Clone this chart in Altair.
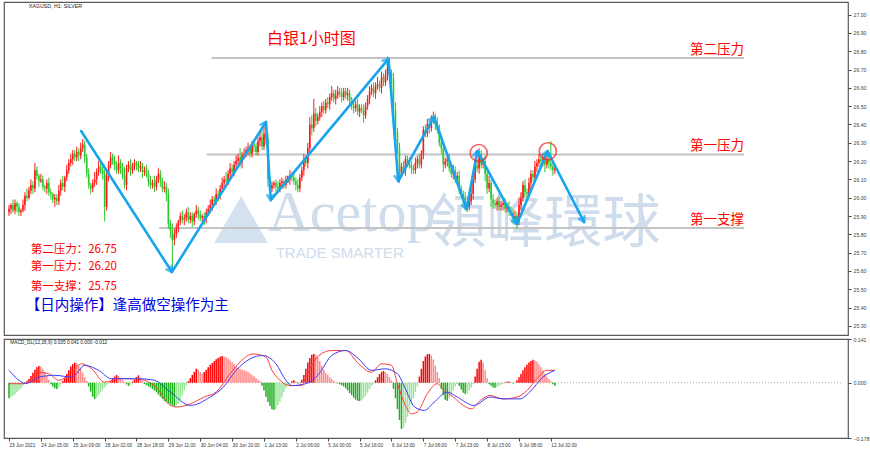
import math
import altair as alt
import pandas as pd

# ---------------- data ----------------
first_open = 25.92
closes = [
    25.94, 25.96, 25.93, 25.97, 25.95, 25.92, 25.93, 25.96, 26.01, 26.00,
    26.04, 26.07, 26.05, 26.15, 26.12, 26.09, 26.10, 26.06, 26.05, 26.08,
    26.03, 26.02, 25.99, 26.00, 25.98, 26.04, 26.08, 26.06, 26.11, 26.15,
    26.19, 26.21, 26.24, 26.22, 26.25, 26.23, 26.27, 26.29, 26.22, 26.13,
    26.07, 26.05, 26.08, 26.10, 26.14, 26.17, 26.15, 26.13, 25.95, 26.12,
    26.18, 26.22, 26.20, 26.18, 26.15, 26.19, 26.16, 26.12, 26.07, 26.16,
    26.18, 26.15, 26.17, 26.19, 26.18, 26.16, 26.17, 26.14, 26.15, 26.13,
    26.09, 26.07, 26.08, 26.06, 26.10, 26.13, 26.09, 26.05, 26.06, 26.02,
    25.86, 25.82, 25.77, 25.80, 25.84, 25.87, 25.90, 25.88, 25.89, 25.92,
    25.88, 25.90, 25.87, 25.91, 25.93, 25.91, 25.89, 25.90, 25.88, 25.92,
    25.94, 25.96, 25.99, 25.98, 26.02, 26.01, 26.05, 26.08, 26.10, 26.09,
    26.13, 26.16, 26.14, 26.18, 26.20, 26.22, 26.19, 26.23, 26.24, 26.26,
    26.27, 26.24, 26.29, 26.28, 26.25, 26.31, 26.33, 26.28, 26.35, 26.32,
    26.10, 26.05, 26.07, 26.08, 26.06, 26.05, 26.08, 26.09, 26.07, 26.10,
    26.10, 26.12, 26.11, 26.09, 26.07, 26.05, 26.11, 26.15, 26.21, 26.19,
    26.27, 26.40, 26.38, 26.46, 26.42, 26.44, 26.47, 26.50, 26.48, 26.52,
    26.51, 26.55, 26.57, 26.54, 26.56, 26.58, 26.57, 26.55, 26.58, 26.56,
    26.57, 26.53, 26.50, 26.49, 26.51, 26.47, 26.49, 26.48, 26.45, 26.50,
    26.54, 26.58, 26.60, 26.57, 26.61, 26.62, 26.60, 26.66, 26.63, 26.67,
    26.71, 26.68, 26.65, 26.48, 26.36, 26.27, 26.13, 26.17, 26.15, 26.21,
    26.19, 26.18, 26.16, 26.15, 26.19, 26.21, 26.18, 26.24, 26.37, 26.35,
    26.40, 26.38, 26.43, 26.44, 26.40, 26.37, 26.30, 26.27, 26.18, 26.20,
    26.21, 26.16, 26.13, 26.15, 26.10, 26.12, 26.05, 26.02, 26.00, 25.96,
    25.95, 25.98, 26.02, 26.10, 26.18, 26.16, 26.24, 26.18, 26.20, 26.13,
    26.05, 26.08, 25.99, 25.97, 25.96, 25.98, 25.95, 25.96, 25.97, 25.94,
    25.95, 25.93, 25.92, 25.89, 25.90, 25.87, 25.96, 26.00, 26.07, 26.03,
    26.02, 26.08, 26.13, 26.11, 26.17, 26.19, 26.21, 26.20, 26.22, 26.18,
    26.21, 26.19, 26.17, 26.15, 26.16,
]
wick_up = [
    2, 1, 3, 2, 1, 2, 1, 3, 2, 4, 2, 3, 2, 4, 2, 1, 3, 2, 1, 2,
    3, 2, 1, 2, 2, 3, 2, 4, 1, 3, 2, 3, 2, 2, 3, 2, 3, 3, 2, 2,
    3, 1, 2, 4, 2, 3, 2, 4, 2, 3, 2, 3, 2, 3, 2, 4, 2, 3, 5, 2,
    2, 3, 2, 2, 1, 2, 3, 2, 2, 3, 2, 3, 2, 4, 2, 3, 2, 2, 3, 2,
    3, 2, 4, 3, 2, 1, 2, 3, 2, 2, 3, 2, 2, 1, 3, 2, 2, 1, 2, 2,
    2, 3, 2, 2, 3, 2, 2, 3, 2, 4, 2, 3, 2, 2, 3, 2, 5, 2, 3, 2,
    3, 2, 2, 3, 2, 2, 3, 4, 6, 2, 3, 2, 2, 1, 2, 3, 2, 2, 1, 2,
    2, 3, 2, 2, 2, 3, 2, 2, 3, 2, 3, 4, 5, 8, 3, 2, 3, 2, 3, 2,
    3, 2, 4, 2, 3, 3, 2, 3, 2, 2, 3, 2, 2, 3, 2, 3, 2, 2, 3, 2,
    2, 3, 2, 3, 2, 4, 2, 3, 2, 3, 6, 3, 2, 3, 4, 2, 3, 2, 3, 2,
    2, 3, 2, 2, 3, 2, 3, 2, 2, 3, 3, 2, 2, 3, 2, 4, 3, 2, 3, 2,
    2, 3, 2, 3, 2, 2, 3, 2, 2, 3, 2, 2, 3, 2, 4, 3, 3, 2, 2, 3,
    2, 4, 2, 3, 2, 2, 3, 2, 2, 3, 2, 3, 2, 2, 3, 2, 4, 3, 2, 3,
    2, 3, 2, 2, 3, 2, 3, 2, 2, 2, 3, 2, 12, 2, 2,
]
wick_dn = [
    2, 3, 1, 2, 3, 2, 2, 1, 3, 2, 1, 2, 3, 2, 2, 3, 1, 2, 2, 3,
    2, 3, 2, 4, 2, 2, 3, 2, 3, 2, 2, 2, 3, 2, 2, 3, 2, 2, 3, 2,
    2, 3, 2, 2, 3, 2, 2, 3, 8, 2, 3, 2, 2, 3, 2, 2, 3, 2, 2, 3,
    2, 3, 2, 2, 3, 2, 2, 3, 2, 2, 3, 2, 2, 3, 2, 2, 3, 2, 2, 4,
    3, 4, 16, 3, 2, 3, 2, 2, 3, 2, 2, 2, 3, 2, 2, 3, 2, 2, 3, 2,
    2, 2, 3, 2, 2, 3, 2, 2, 3, 2, 2, 3, 2, 2, 3, 2, 2, 3, 2, 2,
    3, 2, 2, 3, 2, 2, 3, 2, 2, 3, 4, 3, 2, 2, 3, 2, 2, 3, 2, 2,
    2, 3, 2, 2, 3, 2, 2, 2, 3, 2, 3, 2, 4, 2, 3, 2, 2, 3, 2, 2,
    2, 3, 2, 2, 3, 2, 2, 3, 2, 2, 3, 2, 2, 3, 2, 2, 3, 2, 4, 2,
    2, 3, 2, 2, 3, 2, 2, 3, 2, 2, 3, 2, 3, 3, 2, 3, 5, 2, 2, 3,
    2, 2, 3, 2, 2, 3, 2, 2, 3, 2, 2, 3, 2, 2, 3, 2, 2, 3, 4, 2,
    3, 2, 2, 3, 2, 2, 3, 2, 4, 3, 3, 2, 2, 3, 2, 2, 3, 2, 2, 4,
    3, 2, 4, 3, 2, 3, 2, 2, 3, 2, 2, 3, 2, 3, 2, 4, 2, 3, 2, 3,
    2, 2, 3, 2, 2, 3, 2, 2, 3, 4, 2, 3, 2, 3, 2,
]
# MACD histogram, in thousandths
hist_milli = [
    -50, -45, -42, -38, -30, -24, -18, -10, -4,
    5, 12, 22, 32, 42, 50, 54, 52, 45, 35, 22, 10,
    -5, -12, -18, -20, -15, -6,
    6, 15, 28, 40, 52, 60, 65, 62, 55, 45, 32, 18, 6,
    -12, -28, -45, -52, -48, -40, -30, -22, -15, -8, -3,
    5, 12, 20, 25, 22, 15, 8, 3,
    -5, -10, -6,
    4, 10, 18, 24, 15, 6,
    -4, -8, -12, -15, -20, -25, -30, -38, -45, -52, -58, -62, -66, -70, -73, -75, -74, -68, -55, -40, -25, -10,
    5, 15, 25, 35, 45, 42, 35, 30,
    35, 42, 50, 58, 64, 70, 76, 80, 84, 86, 85, 82, 78, 72, 66, 60,
    52, 48, 45, 42, 40, 38, 35, 30, 25, 20, 15, 10, 5,
    -10, -25, -45, -62, -75, -85, -88, -84, -72, -60, -45, -30, -18, -8, -3,
    5, 8, 4, -3, 2,
    10, 25, 45, 65, 80, 90, 93, 90, 82, 70, 55, 42, 32, 25, 18, 12, 6, 2,
    -2, -5, -8, -12,
    -18, -25, -33, -40, -48, -54, -58, -59, -56, -50, -42, -32, -20, -10, -3,
    8, 18, 28, 35, 38, 35, 28, 18, 8,
    -20, -50, -85, -120, -149, -145, -130, -110, -90, -70, -50, -30, -12,
    20, 45, 70, 85, 92, 93, 88, 75, 55, 35, 15,
    -20, -40, -55, -58, -50, -38, -25, -12, -4,
    -10, -22, -32, -36, -34, -25, -15, -5,
    20, 45, 68, 74, 65, 40, 15,
    -5, -10, -15, -16, -14, -10, -6, -3,
    2, 3, 4, 2, -2, -1,
    8, 18, 28, 40, 50, 58, 65, 70, 74, 72, 68, 60, 50, 40, 30, 20, 12, 5,
    -5, -10,
]
red_idx = [0, 7, 15, 20, 25, 30, 36.5, 41.5, 48, 55, 61, 68, 74.5, 81, 84.5, 91, 98, 104, 111, 116,
           122.5, 129, 132, 136, 141, 147, 149, 155.6, 162, 169, 175.5, 182, 187, 192, 195, 198.6,
           202, 205, 210, 215, 218.4, 223, 228, 232, 236.6, 241.6, 248, 255, 260, 265, 270, 274]
red_val = [-0.003, -0.003, 0.034, 0.029, 0.008, 0.024, 0.061, 0.045, 0.002, 0.013, 0.013, 0.008,
           -0.019, -0.073, -0.078, -0.068, -0.046, -0.030, 0.029, 0.067, 0.093, 0.083, 0.040, 0.008,
           -0.009, -0.009, 0.018, 0.088, 0.104, 0.104, 0.061, 0.034, 0.061, 0.056, -0.003, -0.068,
           -0.100, -0.094, -0.035, -0.003, -0.025, -0.046, -0.073, -0.084, -0.057, -0.041, -0.052,
           -0.046, -0.025, 0.013, 0.040, 0.040]
blue_idx = [0, 5, 8.4, 15, 23, 31.6, 38, 45, 51.4, 64.6, 73, 81, 91, 101, 107.6, 114, 121, 127.4,
            134, 139, 142, 149, 155.6, 162, 169, 175.5, 182, 188.7, 195, 198.6, 203.6, 208.5,
            213.5, 220, 225, 233.3, 241.6, 248, 256.5, 261.4, 268, 274]
blue_val = [0.040, 0.008, -0.003, 0.018, 0.024, 0.018, 0.056, 0.040, 0.013, 0.013, 0.008, -0.030,
            -0.073, -0.046, -0.014, 0.040, 0.077, 0.088, 0.061, 0.008, -0.009, -0.003, 0.029, 0.088,
            0.104, 0.077, 0.040, 0.045, 0.029, -0.014, -0.078, -0.089, -0.062, -0.030, -0.046,
            -0.073, -0.046, -0.052, -0.052, -0.030, 0.018, 0.040]
tick_text = ["23 Jun 2021", "24 Jun 15:00", "25 Jun 09:00", "28 Jun 02:00", "28 Jun 18:00",
             "29 Jun 11:00", "30 Jun 04:00", "30 Jun 20:00", "1 Jul 13:00", "2 Jul 06:00",
             "5 Jul 00:00", "5 Jul 16:00", "6 Jul 13:00", "7 Jul 06:00", "7 Jul 23:00",
             "8 Jul 15:00", "9 Jul 08:00", "12 Jul 02:00"]
price_ticks = [27.00, 26.90, 26.80, 26.70, 26.60, 26.50, 26.40, 26.30, 26.20, 26.10,
               26.00, 25.90, 25.80, 25.70, 25.60, 25.50, 25.40, 25.30]
macd_ticks = [0.141, 0.0, -0.178]

# hand-drawn annotations (bar index, price)
zz_idx = [36.2, 81.8, 129.0, 131.4, 190.5, 195.4, 213.3, 229.7, 235.1, 255.0, 270.3, 288.7]
zz_price = [26.364, 25.594, 26.414, 25.987, 26.758, 26.091, 26.441, 25.938, 26.255, 25.856, 26.255, 25.867]
circle_idx = [235.8, 270.5]
circle_price = [26.244, 26.254]
level_price = [26.763, 26.236, 25.834]
level_start = [101.7, 99.2, 75.4]
level_end = 369.0
level_names = ["第二压力", "第一压力", "第一支撑"]
level_label_price = [26.807, 26.280, 25.878]
note_lines = ["第二压力：26.75", "第一压力：26.20", "第一支撑：25.75"]
note_price = [25.712, 25.624, 25.512]
plan_text = "【日内操作】逢高做空操作为主"
title_text = "白银1小时图"

# ---------------- layout ----------------
X_DOM = [0, 418.65]
Y_DOM = [25.250, 27.069]
M_DOM = [-0.178, 0.141]
W, H_MAIN, H_MACD = 844, 333, 99
PX_I = W / (X_DOM[1] - X_DOM[0])
PX_P = H_MAIN / (Y_DOM[1] - Y_DOM[0])
CJK = "Noto Sans CJK SC"
SMALL = "Liberation Sans"

xs = alt.Scale(domain=X_DOM, nice=False, zero=False)
ys = alt.Scale(domain=Y_DOM, nice=False, zero=False)
ms = alt.Scale(domain=M_DOM, nice=False, zero=False)

yax = alt.Axis(orient="right", values=price_ticks, format=".2f", grid=False, domain=False,
               tickSize=3, tickColor="#444", labelFontSize=5.2, labelColor="#444",
               labelFont=SMALL, labelPadding=2, title=None)
label_expr = "[" + ",".join("'%s'" % t for t in tick_text) + "][round(datum.value/16)]"
xax = alt.Axis(orient="bottom", values=[16 * k for k in range(len(tick_text))], labelExpr=label_expr,
               labelAlign="left", labelFontSize=4.7, labelColor="#333", labelFont=SMALL,
               tickSize=3, tickColor="#444", domain=False, grid=False, labelPadding=1,
               labelFlush=False, labelOverlap=False, title=None)
max_ = alt.Axis(orient="right", values=macd_ticks, format=".3f", grid=False, domain=False,
                tickSize=3, tickColor="#444", labelFontSize=5.2, labelColor="#444",
                labelFont=SMALL, labelPadding=2, title=None)


def XM(f):
    return alt.X(f, type="quantitative", scale=xs, axis=None)


def YM(f):
    return alt.Y(f, type="quantitative", scale=ys, axis=yax)


def XB(f):
    return alt.X(f, type="quantitative", scale=xs, axis=xax)


def YB(f):
    return alt.Y(f, type="quantitative", scale=ms, axis=max_)


opens = [first_open] + closes[:-1]
rows = []
for i, (o, c, wu, wd) in enumerate(zip(opens, closes, wick_up, wick_dn)):
    col = "#ff1a1a" if c > o else ("#2ec82e" if c < o else "#000000")
    rows.append(dict(i=i, o=o, c=c, h=max(o, c) + wu / 100, l=min(o, c) - wd / 100, col=col))
cdf = pd.DataFrame(rows)

wicks = alt.Chart(cdf).mark_rule(strokeWidth=1, clip=True).encode(
    x=XM("i"), y=YM("l"), y2="h:Q", color=alt.Color("col:N", scale=None))
bodies = alt.Chart(cdf).mark_bar(size=1.6, clip=True).encode(
    x=XM("i"), y=YM("o"), y2="c:Q", color=alt.Color("col:N", scale=None))

lvl_df = pd.DataFrame(dict(p=level_price, s=level_start, e=[level_end] * 3,
                           name=level_names, lp=level_label_price))
levels = alt.Chart(lvl_df).mark_rule(color="#c3c3c3", strokeWidth=2).encode(
    x=XM("s"), x2="e:Q", y=YM("p"))
level_text = alt.Chart(lvl_df).mark_text(align="right", baseline="middle", font=CJK,
                                         fontSize=13.5, color="#ff0000").encode(
    x=XM("e"), y=YM("lp"), text="name:N")

# watermark
wm_color = "#c9d9ea"
wm_df = pd.DataFrame(dict(i=[130.0, 268.8, 166.0], p=[25.91, 25.85, 25.70],
                          t=["Acetop", "領峰環球", "TRADE SMARTER"]))
wm1 = alt.Chart(wm_df.iloc[[0]]).mark_text(
    align="left", baseline="middle", font="Liberation Serif", fontSize=58, color=wm_color,
    opacity=0.9).encode(x=XM("i"), y=YM("p"), text="t:N")
wm2 = alt.Chart(wm_df.iloc[[1]]).mark_text(
    align="center", baseline="middle", font="Noto Sans CJK TC", fontSize=58, color=wm_color,
    opacity=0.9).encode(x=XM("i"), y=YM("p"), text="t:N")
wm3 = alt.Chart(wm_df.iloc[[2]]).mark_text(
    align="center", baseline="middle", font="Liberation Sans", fontSize=15, color=wm_color,
    opacity=0.9).encode(x=XM("i"), y=YM("p"), text="t:N")
wm_logo = alt.Chart(pd.DataFrame(dict(i=[116.5], p=[25.88]))).mark_point(
    shape="triangle-up", filled=True, size=2900, color=wm_color, opacity=0.8).encode(
    x=XM("i"), y=YM("p"))

zz_df = pd.DataFrame(dict(i=zz_idx, p=zz_price, k=list(range(len(zz_idx)))))
zz_line = alt.Chart(zz_df).mark_line(color="#17a5ec", strokeWidth=2.6, strokeCap="round",
                                     strokeJoin="round", clip=True).encode(
    x=XM("i"), y=YM("p"), order="k:Q")
heads = []
for k in range(1, len(zz_idx)):
    dx = (zz_idx[k] - zz_idx[k - 1]) * PX_I
    dy = -(zz_price[k] - zz_price[k - 1]) * PX_P
    ang = math.degrees(math.atan2(dx, -dy)) % 360
    heads.append(dict(i=zz_idx[k], p=zz_price[k], a=ang))
head_df = pd.DataFrame(heads)
zz_heads = alt.Chart(head_df).mark_point(shape="M -0.55 0.9 L 0 0 L 0.55 0.9", filled=False,
                                         size=130, strokeWidth=2.6, color="#17a5ec",
                                         strokeCap="round", strokeJoin="round").encode(
    x=XM("i"), y=YM("p"), angle=alt.Angle("a:Q", scale=alt.Scale(domain=[0, 360], range=[0, 360])))

circ_df = pd.DataFrame(dict(i=circle_idx, p=circle_price))
circles = alt.Chart(circ_df).mark_point(shape="circle", filled=False, size=290, strokeWidth=1.6,
                                        color="#ee2222").encode(x=XM("i"), y=YM("p"))

title_df = pd.DataFrame(dict(i=[151.8], p=[26.867], t=[title_text]))
title = alt.Chart(title_df).mark_text(align="center", baseline="middle", font=CJK, fontSize=16,
                                      color="#ff0000").encode(x=XM("i"), y=YM("p"), text="t:N")

notes_df = pd.DataFrame(dict(i=[10.9] * 3, p=note_price, t=note_lines))
notes = alt.Chart(notes_df).mark_text(align="left", baseline="middle", font=CJK, fontSize=11.5,
                                      color="#ff0000").encode(x=XM("i"), y=YM("p"), text="t:N")
plan_df = pd.DataFrame(dict(i=[8.4], p=[25.408], t=[plan_text]))
plan = alt.Chart(plan_df).mark_text(align="left", baseline="middle", font=CJK, fontSize=14.5,
                                    color="#0000e0").encode(x=XM("i"), y=YM("p"), text="t:N")

sym_df = pd.DataFrame(dict(i=[9.9], p=[27.048], t=["XAGUSD, H1:  SILVER"]))
sym = alt.Chart(sym_df).mark_text(align="left", baseline="middle", font=SMALL,
                                  fontSize=5.3, color="#222").encode(x=XM("i"), y=YM("p"), text="t:N")

main = alt.layer(wm_logo, wm1, wm2, wm3, levels, wicks, bodies, zz_line, zz_heads, circles,
                 level_text, title, notes, plan, sym).properties(width=W, height=H_MAIN)

# ---------------- MACD panel ----------------
hrows = []
for i, h in enumerate(hist_milli):
    prev = hist_milli[i - 1] if i > 0 else h
    if h >= 0:
        col = "#ff0000" if h >= prev else "#ff8a8a"
    else:
        col = "#1fb01f" if h <= prev else "#96e696"
    hrows.append(dict(i=i, v=h / 1000, z=0.0, col=col))
hdf = pd.DataFrame(hrows)

hbars = alt.Chart(hdf).mark_bar(size=1.5, clip=True).encode(
    x=XB("i"), y=YB("z"), y2="v:Q", color=alt.Color("col:N", scale=None))
zero = alt.Chart(pd.DataFrame(dict(i=[X_DOM[0]], e=[X_DOM[1]], v=[0.0]))).mark_rule(
    color="#aaaaaa", strokeDash=[1, 2], strokeWidth=1).encode(x=XB("i"), x2="e:Q", y=YB("v"))
red_line = alt.Chart(pd.DataFrame(dict(i=red_idx, v=red_val))).mark_line(
    color="#ff3b3b", strokeWidth=1, interpolate="monotone", clip=True).encode(x=XB("i"), y=YB("v"))
blue_line = alt.Chart(pd.DataFrame(dict(i=blue_idx, v=blue_val))).mark_line(
    color="#3b3bff", strokeWidth=1, interpolate="monotone", clip=True).encode(x=XB("i"), y=YB("v"))
mhead = alt.Chart(pd.DataFrame(dict(i=[0.6], v=[0.127],
                                    t=["MACD_DL(12,26,9) 0.035 0.041 0.000 -0.012"]))).mark_text(
    align="left", baseline="middle", font=SMALL, fontSize=4.8, color="#222").encode(
    x=XB("i"), y=YB("v"), text="t:N")

macd = alt.layer(zero, hbars, red_line, blue_line, mhead).properties(width=W, height=H_MACD)

chart = alt.vconcat(main, macd, spacing=0).properties(
    padding={"left": 3, "top": 1, "right": 0, "bottom": 0},
    background="white",
).configure_view(stroke="#5a5a5a", strokeWidth=1.2)

chart.save("out.html", embed_options={"renderer": "svg", "actions": False})
